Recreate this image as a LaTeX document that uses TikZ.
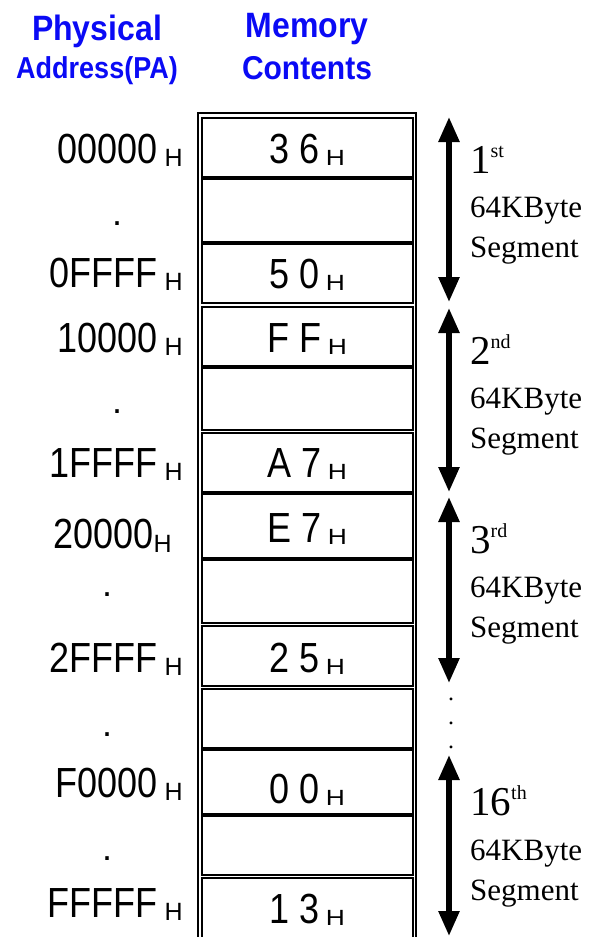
\documentclass[tikz,border=0pt]{standalone}
\usepackage{fontspec}
\setmainfont{Liberation Sans}
\newfontfamily\seriffont{Liberation Serif}
\usetikzlibrary{arrows.meta}
\definecolor{hdrblue}{RGB}{10,10,245}
\newcommand{\bigtxt}[1]{\scalebox{1}[1.17]{\fontsize{36}{36}\selectfont #1}}
\newcommand{\aH}{\hspace{7pt}\raisebox{-3pt}{\fontsize{25}{25}\selectfont H}}
\newcommand{\aHn}{\hspace{0.5pt}\raisebox{-4pt}{\fontsize{25}{25}\selectfont H}}
\newcommand{\cH}{\hspace{6pt}\raisebox{-2pt}{\scalebox{1.2}[1]{\fontsize{22}{22}\selectfont H}}}
\newcommand{\ordn}[2]{{\fontsize{41}{41}\selectfont #1}\raisebox{16pt}{\fontsize{20}{20}\selectfont #2}}
\tikzset{
  hdr/.style={text=hdrblue, font=\bfseries, anchor=base, inner sep=0pt},
  addr/.style={anchor=base east, inner sep=0pt},
  celltxt/.style={anchor=base, inner sep=0pt},
  dotlbl/.style={anchor=base, inner sep=0pt, font=\fontsize{36}{36}\selectfont},
  seglbl/.style={anchor=base west, inner sep=0pt, font=\seriffont\fontsize{31}{31}\selectfont},
  cellbox/.style={draw=black, line width=1.6pt},
  sepline/.style={draw=black, line width=3.5pt},
  segarrow/.style={line width=5.5pt, {Triangle[length=25pt,width=20pt]}-{Triangle[length=25pt,width=20pt]}}
}
\begin{document}
\begin{tikzpicture}[x=1pt,y=-1pt]
\useasboundingbox[fill=white] (0,0) rectangle (604,937);
% headers
\node[hdr, font=\bfseries\fontsize{32}{32}\selectfont] (hphys) at (97,40) {\scalebox{1}[1.1]{Physical}};
\node[hdr, font=\bfseries\fontsize{27}{27}\selectfont] (hpa) at (97,78) {\scalebox{1}[1.12]{Address(PA)}};
\node[hdr, font=\bfseries\fontsize{32}{32}\selectfont] (hmem) at (307,37) {\scalebox{1}[1.1]{Memory}};
\node[hdr, font=\bfseries\fontsize{30}{30}\selectfont] (hcont) at (307,79) {\scalebox{1}[1.1]{Contents}};
% outer frame
\draw[cellbox] (198,113) rectangle (416,950);
% cells
\draw[cellbox] (202,118) rectangle (413,303);
\draw[cellbox] (202,307) rectangle (413,430);
\draw[cellbox] (202,433) rectangle (413,623);
\draw[cellbox] (202,626) rectangle (413,686);
\draw[cellbox] (202,689) rectangle (413,875);
\draw[cellbox] (202,878) rectangle (413,950);
% thick separators
\foreach \yy in {178,243,367,493,559,749,815}
  \draw[sepline] (202,\yy) -- (413,\yy);
% cell contents
\node[celltxt] (m1) at (307.5,163) {\bigtxt{3 6}\cH};
\node[celltxt] (m2) at (307.5,288) {\bigtxt{5 0}\cH};
\node[celltxt] (m3) at (307.5,352) {\bigtxt{F F}\cH};
\node[celltxt] (m4) at (307.5,477) {\bigtxt{A 7}\cH};
\node[celltxt] (m5) at (307.5,542) {\bigtxt{E 7}\cH};
\node[celltxt] (m6) at (307.5,672) {\bigtxt{2 5}\cH};
\node[celltxt] (m7) at (307.5,803) {\bigtxt{0 0}\cH};
\node[celltxt] (m8) at (307.5,923) {\bigtxt{1 3}\cH};
% addresses
\node[addr] (p1) at (183,163) {\bigtxt{00000}\aH};
\node[addr] (p2) at (183,287) {\bigtxt{0FFFF}\aH};
\node[addr] (p3) at (183,352) {\bigtxt{10000}\aH};
\node[addr] (p4) at (183,477) {\bigtxt{1FFFF}\aH};
\node[addr] (p5) at (172,548) {\bigtxt{20000}\aHn};
\node[addr] (p6) at (183,672) {\bigtxt{2FFFF}\aH};
\node[addr] (p7) at (183,797) {\bigtxt{F0000}\aH};
\node[addr] (p8) at (183,917) {\bigtxt{FFFFF}\aH};
% address dots
\node[dotlbl] (q1) at (117,225) {.};
\node[dotlbl] (q2) at (117,413) {.};
\node[dotlbl] (q3) at (107,596) {.};
\node[dotlbl] (q4) at (107,736) {.};
\node[dotlbl] (q5) at (107,860) {.};
% segment arrows
\coordinate (a1t) at (449,117); \coordinate (a1b) at (449,302);
\coordinate (a2t) at (449,308); \coordinate (a2b) at (449,492);
\coordinate (a3t) at (449,497); \coordinate (a3b) at (449,683);
\coordinate (a4t) at (449,755); \coordinate (a4b) at (449,936);
\draw[segarrow] (a1t) -- (a1b);
\draw[segarrow] (a2t) -- (a2b);
\draw[segarrow] (a3t) -- (a3b);
\draw[segarrow] (a4t) -- (a4b);
% vertical ellipsis between arrows
\node[anchor=base, inner sep=0pt, font=\seriffont\fontsize{24}{24}\selectfont] (e1) at (451,700) {.};
\node[anchor=base, inner sep=0pt, font=\seriffont\fontsize{24}{24}\selectfont] (e2) at (451,724) {.};
\node[anchor=base, inner sep=0pt, font=\seriffont\fontsize{24}{24}\selectfont] (e3) at (451,748) {.};
% segment labels
\node[seglbl] (s1a) at (470,173) {\ordn{1}{st}};
\node[seglbl] (s1b) at (470,217) {64KByte};
\node[seglbl] (s1c) at (470,257) {Segment};
\node[seglbl] (s2a) at (470,364) {\ordn{2}{nd}};
\node[seglbl] (s2b) at (470,408) {64KByte};
\node[seglbl] (s2c) at (470,448) {Segment};
\node[seglbl] (s3a) at (470,553) {\ordn{3}{rd}};
\node[seglbl] (s3b) at (470,597) {64KByte};
\node[seglbl] (s3c) at (470,637) {Segment};
\node[seglbl] (s4a) at (470,815) {\ordn{16}{th}};
\node[seglbl] (s4b) at (470,860) {64KByte};
\node[seglbl] (s4c) at (470,900) {Segment};
\end{tikzpicture}
\end{document}
